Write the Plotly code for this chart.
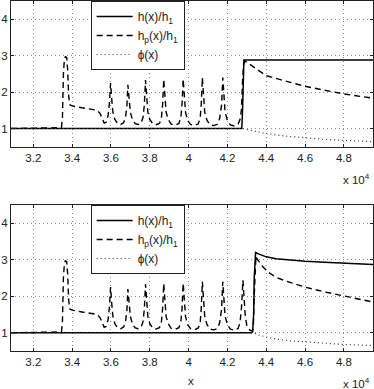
import plotly.graph_objects as go

# ---------------- data (x in units of 10^4) ----------------
# Top panel
top_h_x = [3.085, 4.274, 4.278, 4.281, 4.285, 4.95]
top_h_y = [1.0, 1.0, 1.5, 2.5, 2.88, 2.88]

top_hp_x = [3.085, 3.30, 3.33, 3.345, 3.35, 3.355, 3.36, 3.365, 3.372, 3.377, 3.382, 3.388,
            3.40, 3.45, 3.50, 3.53, 3.545, 3.555, 3.565, 3.575, 3.585, 3.592, 3.598,
            3.604, 3.61, 3.62, 3.635, 3.65, 3.665, 3.675, 3.682, 3.687,
            3.693, 3.70, 3.71, 3.725, 3.74, 3.755, 3.765, 3.772, 3.778,
            3.784, 3.79, 3.80, 3.815, 3.83, 3.85, 3.86, 3.866, 3.872,
            3.878, 3.884, 3.895, 3.91, 3.93, 3.95, 3.96, 3.966, 3.972,
            3.978, 3.984, 3.995, 4.01, 4.03, 4.05, 4.06, 4.065, 4.071,
            4.077, 4.083, 4.095, 4.11, 4.13, 4.15, 4.16, 4.17, 4.176,
            4.182, 4.188, 4.20, 4.215, 4.235, 4.255, 4.265, 4.272, 4.278,
            4.283, 4.29, 4.30, 4.35, 4.40, 4.50, 4.60, 4.70, 4.80, 4.95]
top_hp_y = [1.0, 1.0, 1.02, 1.03, 1.3, 2.5, 2.9, 2.97, 2.95, 2.6, 1.9, 1.65,
            1.62, 1.57, 1.53, 1.5, 1.4, 1.25, 1.15, 1.17, 1.35, 1.7, 2.25,
            1.8, 1.45, 1.25, 1.13, 1.11, 1.16, 1.3, 1.6, 2.2,
            1.75, 1.45, 1.25, 1.13, 1.11, 1.15, 1.3, 1.65, 2.33,
            1.8, 1.45, 1.25, 1.13, 1.1, 1.14, 1.3, 1.65, 2.35,
            1.8, 1.45, 1.25, 1.12, 1.09, 1.14, 1.3, 1.65, 2.36,
            1.8, 1.45, 1.22, 1.11, 1.08, 1.13, 1.3, 1.65, 2.4,
            1.8, 1.45, 1.22, 1.1, 1.08, 1.12, 1.28, 1.65, 2.4,
            1.8, 1.45, 1.22, 1.1, 1.07, 1.12, 1.25, 1.5, 2.3,
            2.75, 2.85, 2.82, 2.63, 2.45, 2.3, 2.16, 2.05, 1.95, 1.83]

top_phi_x = [3.085, 4.28, 4.31, 4.35, 4.40, 4.50, 4.60, 4.70, 4.80, 4.95]
top_phi_y = [1.0, 1.0, 0.96, 0.91, 0.86, 0.79, 0.74, 0.70, 0.675, 0.64]

# Bottom panel
bot_h_x = [3.085, 4.325, 4.33, 4.335, 4.338, 4.342, 4.345, 4.36, 4.40, 4.45, 4.50, 4.60, 4.70, 4.80, 4.95]
bot_h_y = [1.0, 1.0, 1.03, 1.5, 2.5, 3.1, 3.2, 3.16, 3.08, 3.03, 3.0, 2.96, 2.93, 2.9, 2.87]

bot_hp_x = [3.085, 3.30, 3.33, 3.345, 3.35, 3.355, 3.36, 3.365, 3.372, 3.377, 3.382, 3.388,
            3.40, 3.45, 3.50, 3.53, 3.545, 3.555, 3.565, 3.575, 3.585, 3.592, 3.598,
            3.604, 3.61, 3.62, 3.635, 3.65, 3.665, 3.675, 3.682, 3.687,
            3.693, 3.70, 3.71, 3.725, 3.74, 3.755, 3.765, 3.772, 3.778,
            3.784, 3.79, 3.80, 3.815, 3.83, 3.85, 3.86, 3.866, 3.872,
            3.878, 3.884, 3.895, 3.91, 3.93, 3.95, 3.96, 3.966, 3.972,
            3.978, 3.984, 3.995, 4.01, 4.03, 4.05, 4.06, 4.065, 4.071,
            4.077, 4.083, 4.095, 4.11, 4.13, 4.15, 4.16, 4.17, 4.176,
            4.182, 4.188, 4.20, 4.215, 4.235, 4.255, 4.265, 4.272, 4.28,
            4.286, 4.292, 4.30, 4.315, 4.325, 4.333, 4.338, 4.343, 4.347,
            4.352, 4.38, 4.41, 4.45, 4.50, 4.60, 4.70, 4.80, 4.95]
bot_hp_y = [1.0, 1.0, 1.02, 1.03, 1.3, 2.5, 2.9, 2.97, 2.95, 2.6, 1.9, 1.65,
            1.62, 1.57, 1.53, 1.5, 1.4, 1.25, 1.15, 1.17, 1.35, 1.7, 2.25,
            1.8, 1.45, 1.25, 1.13, 1.11, 1.16, 1.3, 1.6, 2.2,
            1.75, 1.45, 1.25, 1.13, 1.11, 1.15, 1.3, 1.65, 2.33,
            1.8, 1.45, 1.25, 1.13, 1.1, 1.14, 1.3, 1.65, 2.35,
            1.8, 1.45, 1.25, 1.12, 1.09, 1.14, 1.3, 1.65, 2.36,
            1.8, 1.45, 1.22, 1.11, 1.08, 1.13, 1.3, 1.65, 2.4,
            1.8, 1.45, 1.22, 1.1, 1.08, 1.12, 1.28, 1.65, 2.4,
            1.8, 1.45, 1.22, 1.1, 1.07, 1.12, 1.28, 1.65, 2.44,
            1.8, 1.45, 1.2, 1.07, 1.05, 1.1, 2.0, 2.9, 3.1,
            3.03, 2.82, 2.66, 2.52, 2.42, 2.25, 2.12, 2.01, 1.84]

bot_phi_x = [3.085, 4.335, 4.35, 4.40, 4.45, 4.50, 4.60, 4.70, 4.80, 4.95]
bot_phi_y = [1.0, 1.0, 0.96, 0.88, 0.83, 0.79, 0.75, 0.71, 0.68, 0.65]

x_ticks = [3.2, 3.4, 3.6, 3.8, 4.0, 4.2, 4.4, 4.6, 4.8]
x_tick_text = ["3.2", "3.4", "3.6", "3.8", "4", "4.2", "4.4", "4.6", "4.8"]
y_ticks = [1, 2, 3, 4]
y_tick_text = ["1", "2", "3", "4"]

names = ["h(x)/h<sub>1</sub>", "h<sub>p</sub>(x)/h<sub>1</sub>", "\u03d5(x)"]

# ---------------- figure ----------------
FONT = "Liberation Sans"
TXT = "#222222"
fig = go.Figure()

styles = [dict(color="black", width=1.5, dash="solid"),
          dict(color="black", width=1.4, dash="6px,4px"),
          dict(color="#333333", width=1.2, dash="1px,3px")]

panels = [
    ("x", "y", "legend", [(top_h_x, top_h_y), (top_hp_x, top_hp_y), (top_phi_x, top_phi_y)]),
    ("x2", "y2", "legend2", [(bot_h_x, bot_h_y), (bot_hp_x, bot_hp_y), (bot_phi_x, bot_phi_y)]),
]
for xa, ya, lg, series in panels:
    for (sx, sy), nm, st in zip(series, names, styles):
        fig.add_trace(go.Scatter(x=sx, y=sy, mode="lines", name=nm, line=st,
                                 xaxis=xa, yaxis=ya, legend=lg))

axis_common = dict(showline=True, linecolor="#222222", linewidth=1, mirror="ticks",
                   ticks="inside", ticklen=3, tickcolor="#222222",
                   showgrid=True, gridcolor="#8a8a8a", griddash="1px,3px", gridwidth=1,
                   zeroline=False, tickfont=dict(family=FONT, size=11.5, color=TXT))

top_dom = [0.5837, 1.0]
bot_dom = [0.0, 0.4171]

legend_common = dict(xanchor="left", yanchor="top", itemwidth=36,
                     bgcolor="white", bordercolor="#222222", borderwidth=1,
                     font=dict(family=FONT, size=12, color=TXT))

fig.update_layout(
    width=374, height=389,
    margin=dict(l=11, r=1, t=1, b=38),
    paper_bgcolor="white", plot_bgcolor="white",
    font=dict(family=FONT, size=11.5, color=TXT),
    xaxis=dict(domain=[0, 1], anchor="y", range=[3.085, 4.95],
               tickvals=x_ticks, ticktext=x_tick_text, **axis_common),
    yaxis=dict(domain=top_dom, anchor="x", range=[0.5, 4.5],
               tickvals=y_ticks, ticktext=y_tick_text, **axis_common),
    xaxis2=dict(domain=[0, 1], anchor="y2", range=[3.085, 4.95],
                tickvals=x_ticks, ticktext=x_tick_text, **axis_common),
    yaxis2=dict(domain=bot_dom, anchor="x2", range=[0.5, 4.5],
                tickvals=y_ticks, ticktext=y_tick_text, **axis_common),
    legend=dict(x=0.22, y=1.0, **legend_common),
    legend2=dict(x=0.22, y=0.4171, **legend_common),
    showlegend=True,
)

fig.add_annotation(text="x 10<sup>4</sup>", xref="paper", yref="paper", x=0.997, y=0.491,
                   xanchor="right", yanchor="middle", showarrow=False,
                   font=dict(family=FONT, size=11.5, color=TXT))
fig.add_annotation(text="x 10<sup>4</sup>", xref="paper", yref="paper", x=0.997, y=-0.09,
                   xanchor="right", yanchor="middle", showarrow=False,
                   font=dict(family=FONT, size=11.5, color=TXT))
fig.add_annotation(text="x", xref="paper", yref="paper", x=0.497, y=-0.087,
                   xanchor="center", yanchor="middle", showarrow=False,
                   font=dict(family=FONT, size=11.5, color=TXT))

fig.write_html("out.html",
               config={"displayModeBar": False},
               post_script="document.body.style.margin='0';document.body.style.overflow='hidden';")
